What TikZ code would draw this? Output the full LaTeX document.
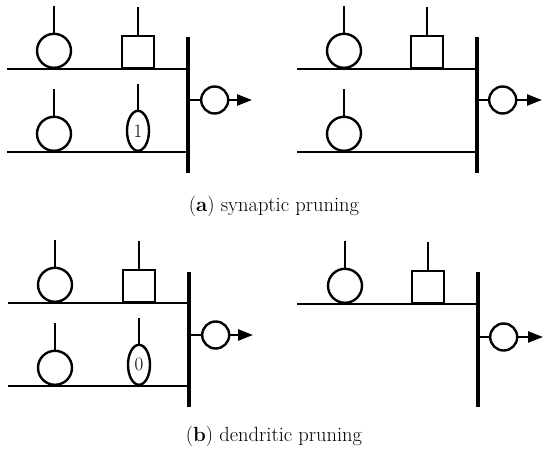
\documentclass[tikz,border=0pt]{standalone}
\usepackage{tikz}
\usetikzlibrary{positioning,shapes.geometric,arrows.meta}

\begin{document}
\begin{tikzpicture}[
    x=1pt,y=-1pt,
    dend/.style={draw,line width=2.4pt},
    bar/.style={draw,line width=3.6pt},
    soma/.style={draw,circle,line width=2.4pt,minimum size=34pt,inner sep=0pt,fill=white},
    outsoma/.style={draw,circle,line width=2.4pt,minimum size=27pt,inner sep=0pt,fill=white},
    syn/.style={draw,rectangle,line width=2.4pt,minimum width=32pt,minimum height=32pt,inner sep=0pt,fill=white},
    mask/.style={draw,ellipse,line width=2.4pt,minimum width=22pt,minimum height=40pt,inner sep=0pt,fill=white,font=\fontsize{19}{19}\selectfont},
    arrow/.style={dend,-{Triangle[length=15pt,width=11pt]}},
    caption/.style={font=\fontsize{20.5}{24}\selectfont}
  ]
    \useasboundingbox (0,0) rectangle (550,458);

    % (a) left: before pruning
    \coordinate (a1top) at (188,37);
    \coordinate (a1bot) at (188,173);
    \coordinate (a1out) at (188,100);
    \coordinate (a1in1) at (7,69);
    \coordinate (a1in2) at (7,152);
    \coordinate (a1end) at (252,100);
    \draw[bar] (a1top) -- (a1bot);
    \draw[dend] (a1in1) -- (a1in1 -| a1top);
    \draw[dend] (a1in2) -- (a1in2 -| a1top);
    \node[soma,anchor=south] (a1x1) at (54,69) {};
    \node[syn,anchor=south] (a1w1) at (138,69) {};
    \node[soma,anchor=south] (a1x2) at (54,152) {};
    \node[mask,anchor=south] (a1m2) at (138,152) {1};
    \draw[dend] (a1x1.north) -- ++(0,-27);
    \draw[dend] (a1w1.north) -- ++(0,-28);
    \draw[dend] (a1x2.north) -- ++(0,-27);
    \draw[dend] (a1m2.north) -- ++(0,-26);
    \node[outsoma,anchor=west] (a1y) at (200,100) {};
    \draw[dend] (a1out) -- (a1y);
    \draw[arrow] (a1y) -- (a1end);

    % (a) right: after pruning
    \coordinate (a2top) at (477,37);
    \coordinate (a2bot) at (477,173);
    \coordinate (a2out) at (477,100);
    \coordinate (a2in1) at (297,69);
    \coordinate (a2in2) at (297,152);
    \coordinate (a2end) at (542,100);
    \draw[bar] (a2top) -- (a2bot);
    \draw[dend] (a2in1) -- (a2in1 -| a2top);
    \draw[dend] (a2in2) -- (a2in2 -| a2top);
    \node[soma,anchor=south] (a2x1) at (344,69) {};
    \node[syn,anchor=south] (a2w1) at (427,69) {};
    \node[soma,anchor=south] (a2x2) at (344,152) {};
    \draw[dend] (a2x1.north) -- ++(0,-27);
    \draw[dend] (a2w1.north) -- ++(0,-28);
    \draw[dend] (a2x2.north) -- ++(0,-27);
    \node[outsoma,anchor=west] (a2y) at (488,100) {};
    \draw[dend] (a2out) -- (a2y);
    \draw[arrow] (a2y) -- (a2end);

    \node[caption] (capa) at (274,206) {(\textbf{a}) synaptic pruning};

    % (b) left: before pruning
    \coordinate (b1top) at (189,272);
    \coordinate (b1bot) at (189,407);
    \coordinate (b1out) at (189,335);
    \coordinate (b1in1) at (8,303);
    \coordinate (b1in2) at (8,386);
    \coordinate (b1end) at (253,335);
    \draw[bar] (b1top) -- (b1bot);
    \draw[dend] (b1in1) -- (b1in1 -| b1top);
    \draw[dend] (b1in2) -- (b1in2 -| b1top);
    \node[soma,anchor=south] (b1x1) at (55,303) {};
    \node[syn,anchor=south] (b1w1) at (139,303) {};
    \node[soma,anchor=south] (b1x2) at (55,386) {};
    \node[mask,anchor=south] (b1m2) at (139,386) {0};
    \draw[dend] (b1x1.north) -- ++(0,-27);
    \draw[dend] (b1w1.north) -- ++(0,-28);
    \draw[dend] (b1x2.north) -- ++(0,-27);
    \draw[dend] (b1m2.north) -- ++(0,-26);
    \node[outsoma,anchor=west] (b1y) at (201,335) {};
    \draw[dend] (b1out) -- (b1y);
    \draw[arrow] (b1y) -- (b1end);

    % (b) right: after pruning
    \coordinate (b2top) at (478,272);
    \coordinate (b2bot) at (478,407);
    \coordinate (b2out) at (478,337);
    \coordinate (b2in1) at (297,304);
    \coordinate (b2end) at (543,337);
    \draw[bar] (b2top) -- (b2bot);
    \draw[dend] (b2in1) -- (b2in1 -| b2top);
    \node[soma,anchor=south] (b2x1) at (345,304) {};
    \node[syn,anchor=south] (b2w1) at (428,304) {};
    \draw[dend] (b2x1.north) -- ++(0,-27);
    \draw[dend] (b2w1.north) -- ++(0,-28);
    \node[outsoma,anchor=west] (b2y) at (489,337) {};
    \draw[dend] (b2out) -- (b2y);
    \draw[arrow] (b2y) -- (b2end);

    \node[caption] (capb) at (274,436) {(\textbf{b}) dendritic pruning};
  \end{tikzpicture}
\end{document}
